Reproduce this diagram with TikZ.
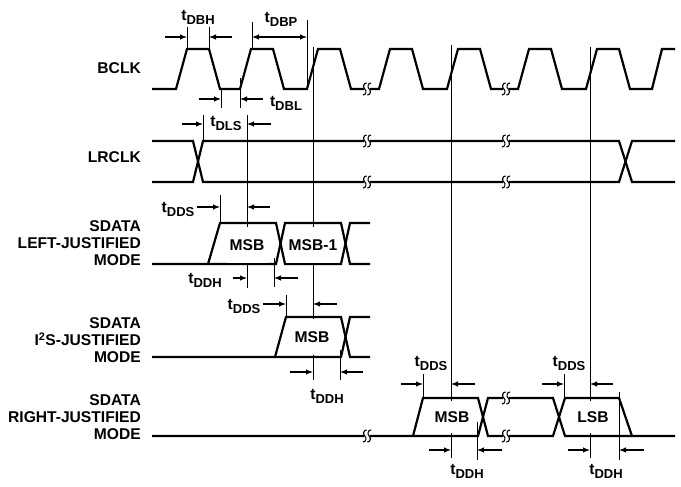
\documentclass[tikz,border=0pt]{standalone}
\usepackage{fontspec}
\setmainfont{Liberation Sans}
\usetikzlibrary{arrows.meta}

\newcommand{\tsub}[1]{t\raisebox{-4pt}{\fontsize{13}{13}\selectfont #1}}

\begin{document}
\begin{tikzpicture}[x=1pt, y=-1pt,
    senal/.style={line width=2.2pt},
    guia/.style={line width=1pt},
    cota/.style={line width=1.1pt, -{Latex[length=7pt,width=5.5pt]}},
    dcota/.style={line width=1.1pt, {Latex[length=7pt,width=5.5pt]}-{Latex[length=7pt,width=5.5pt]}},
    etq/.style={font=\fontsize{15.6}{17}\selectfont\bfseries, inner sep=0pt},
    dato/.style={etq, fill=white, inner xsep=3pt, minimum height=#1},
    corte/.pic={
        \fill[white] (-3,-3) rectangle (3,3);
        \foreach \d in {-2.2,2.2}
            \draw[line width=1.1pt] (\d-1.8,6) .. controls (\d+1.8,6) and (\d+1.8,1) .. (\d,0)
                .. controls (\d-1.8,-1) and (\d-1.8,-6) .. (\d+1.8,-6);
    }]
    \useasboundingbox (0,0) rectangle (681,487);

    % Rotulos de las senales
    \node[etq, anchor=east] (bclk) at (141,68) {BCLK};
    \node[etq, anchor=east] (lrclk) at (141,157) {LRCLK};
    \node[etq, anchor=east, align=right] (sdl) at (141,243) {SDATA\\LEFT-JUSTIFIED\\MODE};
    \node[etq, anchor=east, align=right] (sdi) at (141,340) {SDATA\\I\textsuperscript{2}S-JUSTIFIED\\MODE};
    \node[etq, anchor=east, align=right] (sdr) at (141,417) {SDATA\\RIGHT-JUSTIFIED\\MODE};

    % Lineas guia verticales
    \draw[guia] (247,115) -- (247,288);
    \draw[guia] (313,47) -- (313,380);
    \draw[guia] (451,45) -- (451,458);
    \draw[guia] (590,47) -- (590,458);

    % BCLK
    \draw[senal] (152,89) foreach \r in {176,240,307,379,447,518,586} {
        -- (\r,89) -- ++(11,-40) -- ++(22,0) -- ++(11,40) } -- (652,89) -- (662,49) -- (675,49);

    % LRCLK
    \draw[senal] (152,141) -- (193,141) -- (203,182) -- (619,182) -- (632,141) -- (675,141);
    \draw[senal] (152,182) -- (193,182) -- (203,141) -- (619,141) -- (632,182) -- (675,182);

    % SDATA left-justified
    \draw[senal] (152,264) -- (276,264) -- (285,223) -- (341,223) -- (350,264) -- (370,264);
    \draw[senal] (208,264) -- (220,223) -- (276,223) -- (285,264) -- (341,264) -- (350,223) -- (370,223);

    % SDATA I2S
    \draw[senal] (152,357) -- (341,357) -- (350,317) -- (370,317);
    \draw[senal] (275,357) -- (286,317) -- (341,317) -- (350,357) -- (370,357);

    % SDATA right-justified
    \draw[senal] (152,436) -- (478,436) -- (488,398) -- (553,398) -- (565,436) -- (675,436);
    \draw[senal] (413,436) -- (423,398) -- (478,398) -- (488,436) -- (553,436) -- (565,398)
        -- (619,398) -- (632,436);

    % Cortes de tiempo
    \foreach \p in {(367,89),(506,89),(367,141),(367,182),(506,141),(506,182),
                    (367,436),(506,398),(506,436)}
        \pic at \p {corte};

    % Datos
    \node[dato=36pt] (msbL) at (247,245) {MSB};
    \node[dato=36pt] (msb1) at (313,245) {MSB-1};
    \node[dato=36pt] (msbI) at (312,337) {MSB};
    \node[dato=32pt] (msbR) at (452,417) {MSB};
    \node[dato=32pt] (lsbR) at (593,417) {LSB};

    % tDBH
    \draw[guia] (187,27) -- (187,49);
    \draw[guia] (209,27) -- (209,49);
    \draw[cota] (165,37) -- (187,37);
    \draw[cota] (232,37) -- (209,37);
    \node[etq] (tdbh) at (198,17) {\tsub{DBH}};

    % tDBP
    \draw[guia] (252,22) -- (252,49);
    \draw[guia] (307,20) -- (307,89);
    \draw[dcota] (252,37) -- (307,37);
    \node[etq] (tdbp) at (281,19) {\tsub{DBP}};

    % tDBL
    \draw[guia] (221,89) -- (221,108);
    \draw[guia] (240,78) -- (240,108);
    \draw[cota] (199,99) -- (221,99);
    \draw[cota] (263,99) -- (240,99);
    \node[etq] (tdbl) at (286,103) {\tsub{DBL}};

    % tDLS
    \draw[guia] (203,115) -- (203,141);
    \draw[cota] (182,124) -- (203,124);
    \draw[cota] (271,124) -- (247,124);
    \node[etq] (tdls) at (226,123) {\tsub{DLS}};

    % tDDS y tDDH, left-justified
    \draw[guia] (220,195) -- (220,223);
    \draw[cota] (197,207) -- (220,207);
    \draw[cota] (270,207) -- (247,207);
    \node[etq] (tddsL) at (178,209) {\tsub{DDS}};
    \draw[guia] (274,258) -- (274,287);
    \draw[cota] (233,278) -- (247,278);
    \draw[cota] (298,278) -- (274,278);
    \node[etq] (tddhL) at (205,280) {\tsub{DDH}};

    % tDDS y tDDH, I2S
    \draw[guia] (286,295) -- (286,317);
    \draw[cota] (263,304) -- (286,304);
    \draw[cota] (337,304) -- (313,304);
    \node[etq] (tddsI) at (244,306) {\tsub{DDS}};
    \draw[guia] (340,350) -- (340,380);
    \draw[cota] (290,372) -- (313,372);
    \draw[cota] (363,372) -- (340,372);
    \node[etq] (tddhI) at (327,396) {\tsub{DDH}};

    % tDDS y tDDH, right-justified
    \draw[guia] (423,374) -- (423,398);
    \draw[cota] (401,384) -- (423,384);
    \draw[cota] (475,384) -- (451,384);
    \node[etq] (tddsR) at (431,363) {\tsub{DDS}};
    \draw[guia] (477,422) -- (477,460);
    \draw[cota] (429,450) -- (451,450);
    \draw[cota] (502,450) -- (477,450);
    \node[etq] (tddhR) at (467,471) {\tsub{DDH}};

    \draw[guia] (564,374) -- (564,398);
    \draw[cota] (542,384) -- (564,384);
    \draw[cota] (613,384) -- (590,384);
    \node[etq] (tddsS) at (569,363) {\tsub{DDS}};
    \draw[guia] (619,392) -- (619,460);
    \draw[cota] (568,450) -- (590,450);
    \draw[cota] (644,450) -- (619,450);
    \node[etq] (tddhS) at (606,471) {\tsub{DDH}};
\end{tikzpicture}
\end{document}
